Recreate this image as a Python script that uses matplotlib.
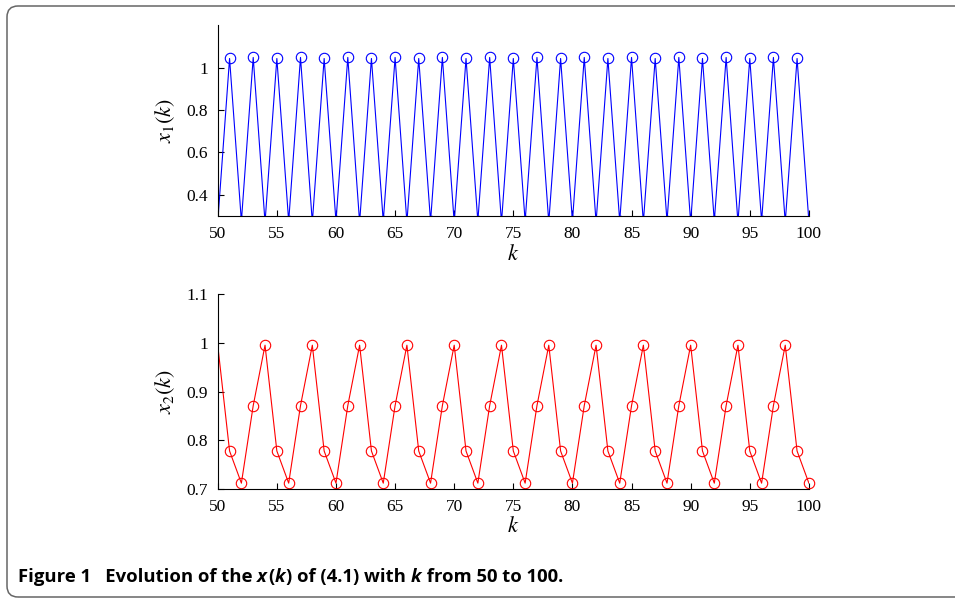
import numpy as np
import matplotlib
matplotlib.use('Agg')
import matplotlib.pyplot as plt
from matplotlib.patches import FancyBboxPatch

plt.rcParams['font.family'] = 'Liberation Serif'
plt.rcParams['mathtext.fontset'] = 'stix'

# data (period-4 orbit for k = 50..100)
k = np.arange(50, 101)
x1_cycle = [0.27, 1.043, 0.275, 1.048]
x2_cycle = [0.995, 0.778, 0.712, 0.871]
x1 = np.array([x1_cycle[(i - 50) % 4] for i in k])
x2 = np.array([x2_cycle[(i - 50) % 4] for i in k])

x_ticks = [50, 55, 60, 65, 70, 75, 80, 85, 90, 95, 100]
x1_ticks = [0.4, 0.6, 0.8, 1.0]
x1_labels = ['0.4', '0.6', '0.8', '1']
x2_ticks = [0.7, 0.8, 0.9, 1.0, 1.1]
x2_labels = ['0.7', '0.8', '0.9', '1', '1.1']

caption = [('Figure 1', 'normal'), ('   Evolution of the ', 'normal'), ('x', 'italic'),
           ('(', 'normal'), ('k', 'italic'), (') of (4.1) with ', 'normal'),
           ('k', 'italic'), (' from 50 to 100.', 'normal')]

fig = plt.figure(figsize=(9.55, 6), dpi=100)

# rounded frame around the figure
frame = FancyBboxPatch((7, 3), 970, 591, boxstyle='round,pad=0,rounding_size=11',
                       transform=None, fill=False, edgecolor='#666666', linewidth=1.1)
fig.patches.append(frame)

ax1 = fig.add_axes([0.228, 0.64, 0.619, 0.318])
ax2 = fig.add_axes([0.228, 0.185, 0.619, 0.325])

ax1.plot(k, x1, color='blue', lw=0.8)
ax1.plot(k[1:], x1[1:], ls='none', color='blue', marker='o', ms=7.5, mfc='none', mew=0.8)
ax1.set_xlim(50, 100)
ax1.set_ylim(0.3, 1.2)
ax1.set_yticks(x1_ticks)
ax1.set_yticklabels(x1_labels)
ax1.set_ylabel(r'$x_{\mathit{1}}(k)$', fontsize=16, labelpad=7)

ax2.plot(k, x2, color='red', lw=0.8)
ax2.plot(k[1:], x2[1:], ls='none', color='red', marker='o', ms=7.5, mfc='none', mew=0.8,
         clip_on=False)
ax2.set_xlim(50, 100)
ax2.set_ylim(0.7, 1.1)
ax2.set_yticks(x2_ticks)
ax2.set_yticklabels(x2_labels)
ax2.set_ylabel(r'$x_2(k)$', fontsize=16, labelpad=7)

for ax in (ax1, ax2):
    ax.set_xticks(x_ticks)
    ax.set_xlabel(r'$k$', fontsize=16, labelpad=2)
    ax.spines['top'].set_visible(False)
    ax.spines['right'].set_visible(False)
    ax.spines['left'].set_linewidth(0.8)
    ax.spines['bottom'].set_linewidth(0.8)
    ax.tick_params(direction='in', length=4, width=0.8, labelsize=12.5, pad=7)

# caption, built piece by piece so italics fit in
renderer = fig.canvas.get_renderer()
xpos = 18
for txt, style in caption:
    t = fig.text(xpos, 18, txt, transform=None, fontsize=13.3, fontweight='bold',
                 family='Open Sans', style=style, va='baseline')
    xpos = t.get_window_extent(renderer).x1 + (1 if style == 'italic' else 0)

fig.savefig('out.png', dpi=100)
